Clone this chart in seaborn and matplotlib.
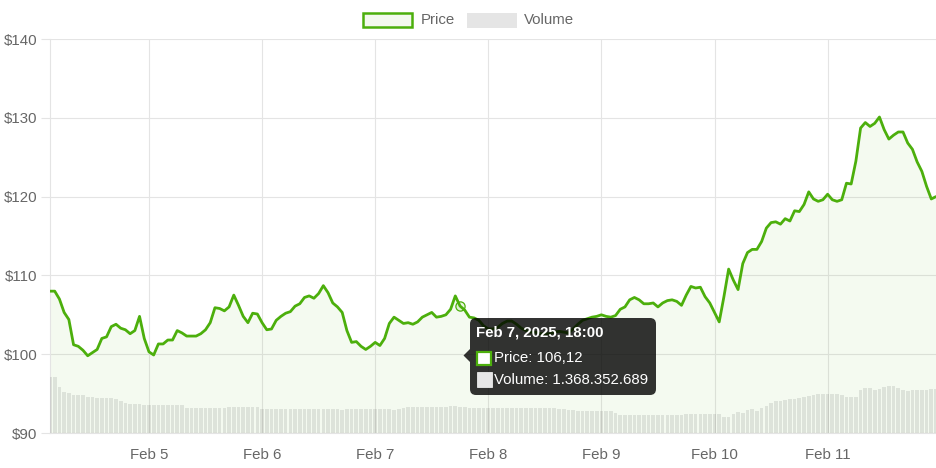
import numpy as np
import pandas as pd
import matplotlib
matplotlib.use("Agg")
import matplotlib.pyplot as plt
import seaborn as sns
from matplotlib.patches import Rectangle, FancyBboxPatch, Polygon
from matplotlib.transforms import Affine2D

# ---------------- data ----------------
start_time = "2025-02-04 03:00"
price = [
    108.0, 108.0, 107.0, 105.3, 104.4, 101.2, 101.0, 100.5, 99.8, 100.2, 100.6, 102.0,
    102.2, 103.5, 103.8, 103.3, 103.1, 102.6, 103.0, 104.8, 102.0, 100.3, 99.9, 101.3,
    101.3, 101.8, 101.8, 103.0, 102.7, 102.3, 102.3, 102.3, 102.6, 103.1, 104.0, 105.9,
    105.8, 105.5, 106.0, 107.5, 106.2, 104.8, 104.0, 105.2, 105.1, 104.0, 103.1, 103.2,
    104.3, 104.8, 105.2, 105.4, 106.1, 106.4, 107.2, 107.4, 107.1, 107.7, 108.7, 107.8,
    106.5, 106.0, 105.3, 103.0, 101.5, 101.6, 101.0, 100.6, 101.0, 101.5, 101.1, 102.0,
    103.9, 104.7, 104.3, 103.9, 104.0, 103.8, 104.1, 104.7, 105.0, 105.3, 104.7, 104.8,
    105.0, 105.7, 107.4, 106.12, 105.6, 104.7, 104.6, 104.3, 103.6, 103.2, 103.2, 103.4,
    103.9, 104.2, 104.2, 103.8, 103.3, 103.0, 102.8, 102.8, 102.6, 102.6, 102.6, 102.8,
    102.9, 102.8, 102.7, 103.2, 103.8, 104.3, 104.5, 104.7, 104.8, 105.0, 104.8, 104.7,
    104.9, 105.7, 106.0, 106.9, 107.2, 106.9, 106.4, 106.4, 106.5, 106.0, 106.5, 106.8,
    106.9, 106.7, 106.2, 107.5, 108.6, 108.4, 108.5, 107.3, 106.5, 105.3, 104.1, 107.3,
    110.8, 109.4, 108.2, 111.5, 112.9, 113.3, 113.3, 114.3, 116.0, 116.7, 116.8, 116.5,
    117.2, 116.9, 118.2, 118.1, 119.0, 120.6, 119.7, 119.4, 119.6, 120.3, 119.6, 119.4,
    119.6, 121.7, 121.6, 124.5, 128.7, 129.4, 128.9, 129.3, 130.1, 128.5, 127.3, 127.8,
    128.2, 128.2, 126.8, 126.0, 124.4, 123.2, 121.3, 119.7, 120.0,
]
# volume in billions
volume = [
    2.93, 2.93, 2.41, 2.15, 2.07, 1.98, 1.98, 1.98, 1.89, 1.89, 1.84, 1.84,
    1.84, 1.84, 1.77, 1.67, 1.58, 1.53, 1.53, 1.53, 1.46, 1.46, 1.46, 1.46,
    1.46, 1.46, 1.46, 1.46, 1.46, 1.32, 1.32, 1.32, 1.32, 1.32, 1.32, 1.32,
    1.32, 1.32, 1.34, 1.34, 1.34, 1.35, 1.36, 1.34, 1.34, 1.25, 1.25, 1.25,
    1.25, 1.25, 1.25, 1.25, 1.25, 1.25, 1.25, 1.25, 1.25, 1.26, 1.26, 1.26,
    1.26, 1.26, 1.22, 1.24, 1.24, 1.24, 1.25, 1.25, 1.25, 1.25, 1.25, 1.25,
    1.25, 1.22, 1.25, 1.28, 1.37, 1.37, 1.37, 1.37, 1.37, 1.37, 1.37, 1.37,
    1.37, 1.38, 1.40, 1.368352689, 1.36, 1.32, 1.30, 1.30, 1.30, 1.30, 1.30, 1.30,
    1.30, 1.30, 1.30, 1.30, 1.30, 1.30, 1.30, 1.30, 1.30, 1.30, 1.29, 1.28,
    1.27, 1.25, 1.22, 1.18, 1.17, 1.16, 1.16, 1.15, 1.15, 1.15, 1.14, 1.12,
    1.02, 0.96, 0.95, 0.95, 0.95, 0.95, 0.95, 0.95, 0.95, 0.95, 0.95, 0.95,
    0.95, 0.95, 0.95, 0.99, 0.99, 0.99, 0.99, 0.99, 0.99, 0.99, 0.99, 0.82,
    0.82, 0.99, 1.11, 1.06, 1.20, 1.27, 1.17, 1.30, 1.41, 1.58, 1.64, 1.68,
    1.72, 1.75, 1.79, 1.84, 1.88, 1.95, 2.00, 2.02, 2.02, 2.05, 2.02, 2.03,
    1.96, 1.88, 1.88, 1.88, 2.26, 2.33, 2.36, 2.26, 2.31, 2.40, 2.45, 2.42,
    2.36, 2.26, 2.19, 2.26, 2.26, 2.26, 2.26, 2.31, 2.31,
]
y_ticks = [90, 100, 110, 120, 130, 140]
y_labels = ["$90", "$100", "$110", "$120", "$130", "$140"]
x_tick_dates = ["2025-02-05", "2025-02-06", "2025-02-07", "2025-02-08",
                "2025-02-09", "2025-02-10", "2025-02-11"]
x_labels = ["Feb 5", "Feb 6", "Feb 7", "Feb 8", "Feb 9", "Feb 10", "Feb 11"]
hover_index = 87

times = pd.date_range(start_time, periods=len(price), freq="h")
df = pd.DataFrame({"time": times, "price": price, "volume": volume})

# ---------------- style ----------------
sns.set_style("white")
plt.rcParams["font.family"] = ["Liberation Sans", "DejaVu Sans"]

GREEN = "#4caf0c"
GRID = "#e4e4e4"
TXT = "#666666"
FS = 10.8

W, H = 937, 468
fig = plt.figure(figsize=(W / 100, H / 100), dpi=100)
ax = fig.add_axes([50 / W, 35 / H, (936 - 50) / W, (433 - 39) / H])

ax.fill_between(df["time"], df["price"], 90, color=GREEN, alpha=0.06, linewidth=0, zorder=1)
sns.lineplot(data=df, x="time", y="price", ax=ax, color=GREEN, linewidth=2.0, zorder=3,
             solid_joinstyle="round", solid_capstyle="round")

ax.scatter([times[hover_index]], [price[hover_index]], s=44, facecolor=(0.3, 0.69, 0.05, 0.12),
           edgecolor=GREEN, linewidth=0.9, zorder=4)

ax.set_xlim(times[0], times[-1])
ax.set_ylim(90, 140)
ax.set_yticks(y_ticks)
ax.set_yticklabels(y_labels)
ax.set_xticks(pd.to_datetime(x_tick_dates))
ax.set_xticklabels(x_labels)
ax.set_xlabel("")
ax.set_ylabel("")
ax.grid(True, color=GRID, linewidth=0.8)
ax.set_axisbelow(True)
ax.tick_params(axis="both", length=6.5, width=0.8, color=GRID, labelcolor=TXT, labelsize=FS)
ax.tick_params(axis="y", pad=2.5)
ax.tick_params(axis="x", pad=4.5)
for s in ["top", "right"]:
    ax.spines[s].set_visible(False)
for s in ["left", "bottom"]:
    ax.spines[s].set_color(GRID)
    ax.spines[s].set_linewidth(0.8)

ax2 = ax.twinx()
ax2.bar(df["time"], df["volume"], width=0.78 / 24, color="black", alpha=0.09, linewidth=0, zorder=2)
ax2.set_ylim(0, 20.5)
ax2.set_axis_off()
ax2.set_xlim(times[0], times[-1])

# pixel transform (top-left origin)
T = Affine2D().scale(1, -1).translate(0, H)

# legend
fig.patches.append(Rectangle((363, 13), 49, 14, transform=T, facecolor="#f3f9ee",
                             edgecolor=GREEN, linewidth=1.8, figure=fig))
fig.text(420.5, 20, "Price", transform=T, color=TXT, fontsize=FS, va="center", ha="left")
fig.patches.append(Rectangle((467, 12.5), 50, 15, transform=T, facecolor="#e5e5e5",
                             edgecolor="none", figure=fig))
fig.text(524.3, 20, "Volume", transform=T, color=TXT, fontsize=FS, va="center", ha="left")

# tooltip
tip_bg = (0, 0, 0, 0.8)
fig.patches.append(FancyBboxPatch((470, 318), 186, 77, transform=T,
                                  boxstyle="round,pad=0,rounding_size=6",
                                  facecolor=tip_bg, edgecolor="none", figure=fig))
fig.patches.append(Polygon([(470, 349), (463.5, 355.5), (470, 362)], closed=True, transform=T,
                           facecolor=tip_bg, edgecolor="none", figure=fig))
t = times[hover_index]
title = f"{t:%b} {t.day}, {t.year}, {t:%H:%M}"
fig.text(476.5, 332.5, title, transform=T, color="white", fontsize=FS, fontweight="bold",
         va="center", ha="left")
fig.patches.append(Rectangle((477.3, 351.8), 13.4, 13.4, transform=T, facecolor="white",
                             edgecolor=GREEN, linewidth=1.6, figure=fig))
price_txt = f"{price[hover_index]:.2f}".replace(".", ",")
fig.text(494.5, 358, f"Price: {price_txt}", transform=T, color="white", fontsize=FS,
         va="center", ha="left")
fig.patches.append(Rectangle((476.5, 372), 15, 15, transform=T, facecolor="#e6e6e6",
                             edgecolor="white", linewidth=0.5, figure=fig))
vol_txt = f"{int(round(volume[hover_index] * 1e9)):,}".replace(",", ".")
fig.text(494.5, 379.5, f"Volume: {vol_txt}", transform=T, color="white", fontsize=FS,
         va="center", ha="left")

fig.savefig("out.png", dpi=100)
